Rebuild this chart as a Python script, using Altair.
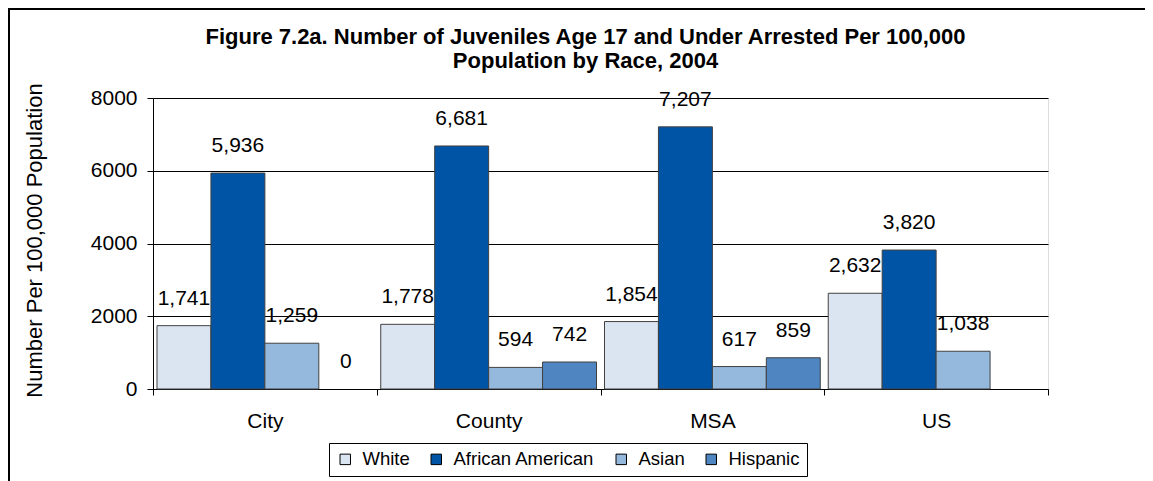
import altair as alt
import pandas as pd

categories = ["City", "County", "MSA", "US"]
races = ["White", "African American", "Asian", "Hispanic"]
white = [1741, 1778, 1854, 2632]
african_american = [5936, 6681, 7207, 3820]
asian = [1259, 594, 617, 1038]
hispanic = [0, 742, 859, None]
colors = ["#dbe5f1", "#0054a6", "#95b8dd", "#4f86c1"]
y_ticks = [0, 2000, 4000, 6000, 8000]
title_lines = [
    "Figure 7.2a. Number of Juveniles Age 17 and Under Arrested Per 100,000",
    "Population by Race, 2004",
]
y_title = "Number Per 100,000 Population"

series = [white, african_american, asian, hispanic]
rows = []
for race, vals in zip(races, series):
    for cat, v in zip(categories, vals):
        if v is not None:
            rows.append({"area": cat, "race": race, "value": v})
df = pd.DataFrame(rows)

FONT = "Liberation Sans"

base = alt.Chart(df).encode(
    x=alt.X(
        "area:N",
        sort=categories,
        scale=alt.Scale(paddingInner=0, paddingOuter=0),
        axis=alt.Axis(
            title=None,
            labelAngle=0,
            tickBand="extent",
            tickSize=6,
            tickColor="black",
            domainColor="black",
            labelFontSize=21,
            labelFont=FONT,
            labelColor="black",
            labelPadding=15,
            grid=False,
        ),
    ),
    xOffset=alt.XOffset(
        "race:N", sort=races, scale=alt.Scale(paddingInner=0, paddingOuter=0.074)
    ),
    y=alt.Y(
        "value:Q",
        scale=alt.Scale(domain=[0, 8000], nice=False),
        axis=alt.Axis(
            values=y_ticks,
            format="d",
            title=y_title,
            titleFontSize=22,
            titleFont=FONT,
            titleFontWeight="normal",
            titleColor="black",
            titleX=-107,
            titleY=142,
            tickSize=6,
            tickColor="black",
            domainColor="black",
            gridColor="black",
            gridWidth=1,
            labelFontSize=21,
            labelFont=FONT,
            labelColor="black",
            labelPadding=10,
        ),
    ),
)

bars = base.mark_bar(stroke="#404040", strokeWidth=1).encode(
    color=alt.Color(
        "race:N",
        sort=races,
        scale=alt.Scale(domain=races, range=colors),
        legend=alt.Legend(
            title=None,
            orient="none",
            legendX=176,
            legendY=345,
            direction="horizontal",
            strokeColor="black",
            fillColor="white",
            padding=7,
            symbolType="square",
            symbolSize=110,
            symbolStrokeColor="black",
            symbolStrokeWidth=1,
            symbolOpacity=1,
            labelFontSize=18.5,
            labelFont=FONT,
            labelColor="black",
            labelOffset=8,
            columnPadding=17,
        ),
    ),
    strokeOpacity=alt.condition(alt.datum.value > 0, alt.value(1), alt.value(0)),
)

labels = base.mark_text(
    dy=-21, baseline="alphabetic", fontSize=21, font=FONT, color="black"
).encode(text=alt.Text("value:Q", format=","))

frame = alt.Chart(alt.Data(values=[{}]))
left_border = frame.mark_rule(color="black", strokeWidth=2).encode(
    x=alt.value(-144), y=alt.value(-90), y2=alt.value(400)
)
top_border = frame.mark_rule(color="black", strokeWidth=2).encode(
    x=alt.value(-145), x2=alt.value(1100), y=alt.value(-89)
)

chart = (
    alt.layer(bars, labels, left_border, top_border)
    .properties(
        width=895,
        height=291,
        autosize=alt.AutoSizeParams(type="none"),
        padding={"left": 145, "top": 90, "right": 97, "bottom": 92},
        title=alt.TitleParams(
            text=title_lines,
            fontSize=22,
            font=FONT,
            fontWeight="bold",
            color="black",
            anchor="middle",
            frame="group",
            dx=-15,
            offset=-66,
            lineHeight=24,
        ),
    )
    .configure_view(stroke="#808080", strokeWidth=1)
    .configure(background="white")
)

chart.save("out.html", embed_options={"renderer": "svg", "actions": False})
